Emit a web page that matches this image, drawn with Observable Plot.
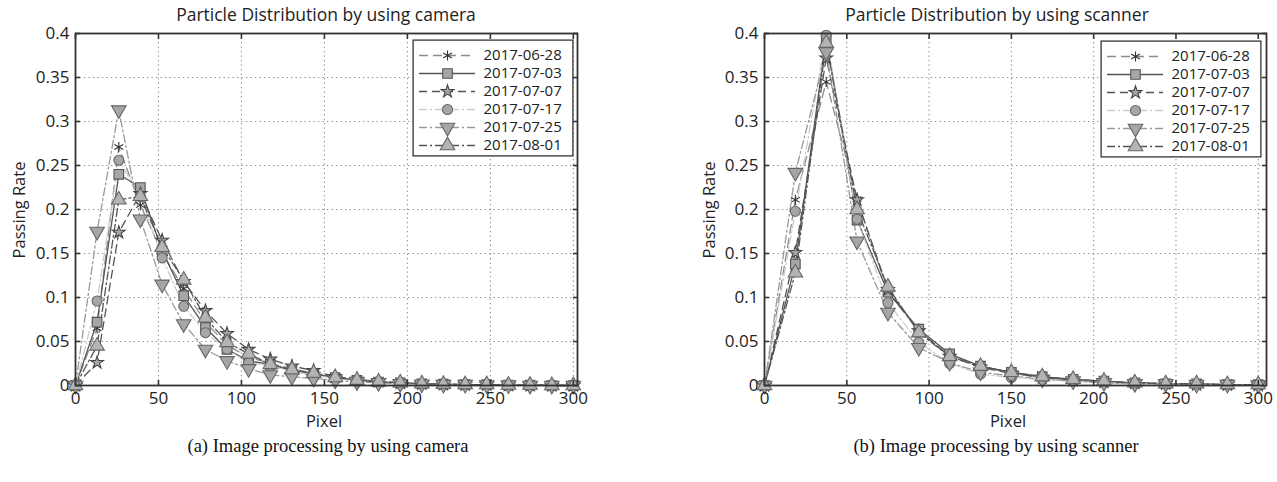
<!DOCTYPE html>
<html>
<head>
<meta charset="utf-8">
<script src="https://cdn.jsdelivr.net/npm/d3@7"></script>
<script src="https://cdn.jsdelivr.net/npm/@observablehq/plot@0.6"></script>
<style>
  html, body { margin: 0; padding: 0; background: #fff; }
  #root { position: relative; width: 1277px; height: 482px; overflow: hidden; font-family: "Open Sans", sans-serif; color: #222; }
  .abs { position: absolute; white-space: nowrap; line-height: 1; }
  .title { font-size: 17.5px; transform: translate(-50%, -50%); }
  .xlab { font-size: 16.5px; transform: translate(-50%, -50%); }
  .ylab { font-size: 16.5px; transform: translate(-50%, -50%) rotate(-90deg); }
  .caption { font-family: "Liberation Serif", "Times New Roman", serif; font-size: 18.5px; transform: translate(-50%, -50%); color: #111; }
  svg { position: absolute; overflow: visible; }
</style>
</head>
<body>
<div id="root"></div>
<script>
// ---------------- DATA ----------------
const seriesNames = ["2017-06-28", "2017-07-03", "2017-07-07", "2017-07-17", "2017-07-25", "2017-08-01"];
const xTickValues = [0, 50, 100, 150, 200, 250, 300];
const yTickValues = [0, 0.05, 0.1, 0.15, 0.2, 0.25, 0.3, 0.35, 0.4];

// (a) camera
const cameraPixel = [0, 13, 26.1, 39.1, 52.2, 65.2, 78.3, 91.3, 104.3, 117.4, 130.4, 143.5, 156.5, 169.6, 182.6, 195.7, 208.7, 221.7, 234.8, 247.8, 260.9, 273.9, 287, 300];
const camera_20170628 = [0, 0.065, 0.271, 0.205, 0.151, 0.110, 0.072, 0.046, 0.032, 0.025, 0.019, 0.014, 0.009, 0.006, 0.004, 0.003, 0.002, 0.0015, 0.001, 0.001, 0.0005, 0.0005, 0, 0];
const camera_20170703 = [0, 0.072, 0.240, 0.225, 0.153, 0.102, 0.066, 0.041, 0.028, 0.024, 0.017, 0.013, 0.009, 0.006, 0.004, 0.003, 0.002, 0.0015, 0.001, 0.001, 0.0005, 0.0005, 0, 0];
const camera_20170707 = [0, 0.026, 0.174, 0.218, 0.165, 0.118, 0.085, 0.059, 0.041, 0.030, 0.022, 0.017, 0.010, 0.007, 0.005, 0.003, 0.002, 0.0015, 0.001, 0.001, 0.0005, 0.0005, 0, 0];
const camera_20170717 = [0, 0.096, 0.256, 0.215, 0.145, 0.090, 0.060, 0.041, 0.026, 0.022, 0.016, 0.012, 0.008, 0.006, 0.004, 0.003, 0.002, 0.001, 0.001, 0.0005, 0.0005, 0, 0, 0];
const camera_20170725 = [0, 0.175, 0.313, 0.189, 0.115, 0.070, 0.041, 0.028, 0.019, 0.012, 0.010, 0.008, 0.006, 0.004, 0.003, 0.002, 0.0015, 0.001, 0.001, 0.0005, 0.0005, 0, 0, 0];
const camera_20170801 = [0, 0.045, 0.211, 0.215, 0.157, 0.120, 0.077, 0.049, 0.036, 0.024, 0.018, 0.014, 0.009, 0.006, 0.004, 0.003, 0.002, 0.0015, 0.001, 0.001, 0.0005, 0.0005, 0, 0];

// (b) scanner
const scannerPixel = [0, 18.75, 37.5, 56.25, 75, 93.75, 112.5, 131.25, 150, 168.75, 187.5, 206.25, 225, 243.75, 262.5, 281.25, 300];
const scanner_20170628 = [0, 0.211, 0.345, 0.212, 0.106, 0.062, 0.034, 0.020, 0.014, 0.009, 0.006, 0.004, 0.003, 0.002, 0.001, 0.001, 0.0005];
const scanner_20170703 = [0, 0.138, 0.395, 0.188, 0.106, 0.064, 0.036, 0.022, 0.015, 0.010, 0.007, 0.005, 0.003, 0.002, 0.002, 0.001, 0.001];
const scanner_20170707 = [0, 0.151, 0.372, 0.211, 0.109, 0.062, 0.033, 0.021, 0.014, 0.009, 0.006, 0.004, 0.003, 0.002, 0.001, 0.001, 0.0005];
const scanner_20170717 = [0, 0.198, 0.398, 0.189, 0.094, 0.049, 0.025, 0.013, 0.009, 0.007, 0.005, 0.003, 0.002, 0.002, 0.001, 0.001, 0.0005];
const scanner_20170725 = [0, 0.242, 0.379, 0.164, 0.083, 0.043, 0.026, 0.015, 0.011, 0.007, 0.005, 0.003, 0.002, 0.002, 0.001, 0.001, 0.0005];
const scanner_20170801 = [0, 0.128, 0.389, 0.200, 0.112, 0.060, 0.033, 0.022, 0.015, 0.010, 0.007, 0.005, 0.003, 0.002, 0.002, 0.001, 0.001];

// ---------------- STYLES ----------------
const sqrt3 = Math.sqrt(3);
const triangleDown = {
  draw(context, size) {
    const y = -Math.sqrt(size / (sqrt3 * 3));
    context.moveTo(0, -y * 2);
    context.lineTo(-sqrt3 * y, y);
    context.lineTo(sqrt3 * y, y);
    context.closePath();
  }
};
const seriesStyle = [
  {stroke: "#8c8c8c", dash: "9,5",     symbol: "asterisk",   fill: "none",    mstroke: "#333", r: 4.8},
  {stroke: "#555555", dash: null,      symbol: "square",     fill: "#a6a6a6", mstroke: "#555", r: 5.4},
  {stroke: "#555555", dash: "8,5",     symbol: "star",       fill: "#a6a6a6", mstroke: "#444", r: 4.0},
  {stroke: "#cdcdcd", dash: "8,3,2,3", symbol: "circle",     fill: "#a6a6a6", mstroke: "#666", r: 5.0},
  {stroke: "#9a9a9a", dash: "8,3,2,3", symbol: triangleDown, fill: "#a6a6a6", mstroke: "#666", r: 5.4},
  {stroke: "#555555", dash: "8,3,2,3", symbol: "triangle",   fill: "#b4b4b4", mstroke: "#666", r: 5.4}
];

const root = document.getElementById("root");
function addText(cls, text, left, top) {
  const d = document.createElement("div");
  d.className = "abs " + cls;
  d.textContent = text;
  d.style.left = left + "px";
  d.style.top = top + "px";
  root.appendChild(d);
}

function makeChart(pixels, seriesValues, opts) {
  const marks = [
    Plot.ruleX(xTickValues.filter(v => v > 0 && v < opts.xMax), {stroke: "#8a8a8a", strokeDasharray: "1.3,3.2", strokeWidth: 1.1}),
    Plot.ruleY(yTickValues.filter(v => v > 0 && v < 0.4), {stroke: "#8a8a8a", strokeDasharray: "1.3,3.2", strokeWidth: 1.1})
  ];
  seriesNames.forEach((name, i) => {
    const rows = pixels.map((p, j) => ({x: p, y: seriesValues[i][j]}));
    const s = seriesStyle[i];
    marks.push(Plot.line(rows, {x: "x", y: "y", stroke: s.stroke, strokeWidth: 1.3, strokeDasharray: s.dash}));
  });
  seriesNames.forEach((name, i) => {
    const rows = pixels.map((p, j) => ({x: p, y: seriesValues[i][j]}));
    const s = seriesStyle[i];
    marks.push(Plot.dot(rows, {x: "x", y: "y", symbol: s.symbol, r: s.r, fill: s.fill, stroke: s.mstroke, strokeWidth: 1.1}));
  });
  marks.push(
    Plot.frame({stroke: "#333", strokeWidth: 1.8}),
    Plot.axisX(xTickValues, {anchor: "bottom", tickSize: -5, tickPadding: 11, label: null, stroke: "#333", strokeWidth: 1.6, fontSize: 17}),
    Plot.axisX(xTickValues, {anchor: "top", tickSize: -5, tickFormat: () => "", label: null, stroke: "#333", strokeWidth: 1.6}),
    Plot.axisY(yTickValues, {anchor: "left", tickSize: -5, tickPadding: 11, label: null, stroke: "#333", strokeWidth: 1.6, fontSize: 17,
      tickFormat: d => String(+d.toFixed(2))}),
    Plot.axisY(yTickValues, {anchor: "right", tickSize: -5, tickFormat: () => "", label: null, stroke: "#333", strokeWidth: 1.6})
  );
  const svg = Plot.plot({
    width: opts.width,
    height: 430,
    marginLeft: opts.marginLeft,
    marginRight: opts.marginRight,
    marginTop: 33,
    marginBottom: 45,
    x: {domain: [0, opts.xMax]},
    y: {domain: [0, 0.4]},
    style: {fontFamily: "'Open Sans', sans-serif", fontSize: "17px", color: "#222", background: "transparent", overflow: "visible"},
    marks
  });
  svg.style.left = opts.left + "px";
  svg.style.top = "0px";
  root.appendChild(svg);
}

function makeLegend(left, top) {
  const marks = [Plot.frame({fill: "white", stroke: "#333", strokeWidth: 1.3, inset: 0.6})];
  seriesNames.forEach((name, i) => {
    const s = seriesStyle[i];
    marks.push(Plot.ruleY([name], {y: d => d, x1: 7, x2: 63, stroke: s.stroke, strokeWidth: 1.3, strokeDasharray: s.dash}));
    marks.push(Plot.dot([name], {y: d => d, x: 35, symbol: s.symbol, r: s.r, fill: s.fill, stroke: s.mstroke, strokeWidth: 1.1}));
  });
  marks.push(Plot.text(seriesNames, {y: d => d, x: 71, text: d => d, textAnchor: "start", fontSize: 15, fill: "#222"}));
  const svg = Plot.plot({
    width: 161, height: 117, margin: 0,
    x: {domain: [0, 161], range: [0, 161], axis: null},
    y: {type: "point", domain: seriesNames, range: [14, 107], padding: 0, axis: null},
    style: {fontFamily: "'Open Sans', sans-serif", background: "transparent", overflow: "visible"},
    marks
  });
  svg.style.left = left + "px";
  svg.style.top = top + "px";
  root.appendChild(svg);
}

makeChart(cameraPixel, [camera_20170628, camera_20170703, camera_20170707, camera_20170717, camera_20170725, camera_20170801],
  {left: 0, width: 600, marginLeft: 75, marginRight: 23, xMax: 302.5});
makeChart(scannerPixel, [scanner_20170628, scanner_20170703, scanner_20170707, scanner_20170717, scanner_20170725, scanner_20170801],
  {left: 700, width: 577, marginLeft: 64, marginRight: 11, xMax: 305});
makeLegend(411.5, 39);
makeLegend(1100, 40);

addText("title", "Particle Distribution by using camera", 326, 15);
addText("title", "Particle Distribution by using scanner", 997, 15);
addText("xlab", "Pixel", 324, 421);
addText("xlab", "Pixel", 1008, 421);
addText("ylab", "Passing Rate", 19, 210);
addText("ylab", "Passing Rate", 709, 210);
addText("caption", "(a) Image processing by using camera", 328, 446);
addText("caption", "(b) Image processing by using scanner", 996, 446);
</script>
</body>
</html>
